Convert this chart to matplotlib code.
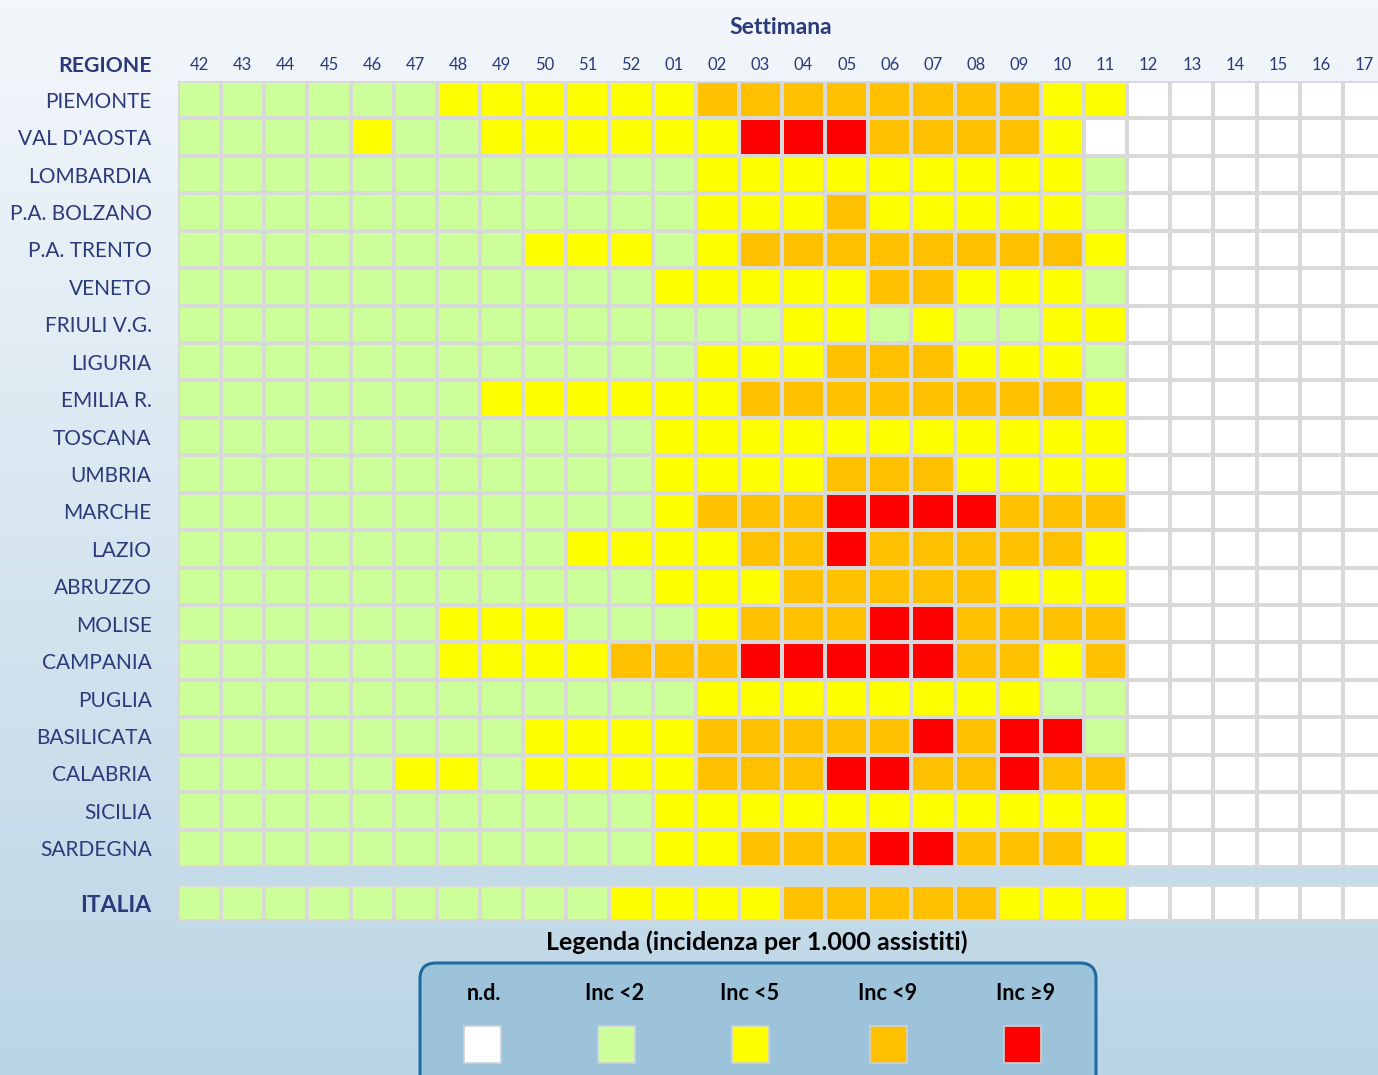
import numpy as np
import matplotlib
matplotlib.use("Agg")
import matplotlib.pyplot as plt
from matplotlib.colors import ListedColormap, BoundaryNorm
from matplotlib.patches import FancyBboxPatch, Rectangle

plt.rcParams['font.family'] = ['Lato', 'DejaVu Sans']

weeks = ['42', '43', '44', '45', '46', '47', '48', '49', '50', '51', '52',
         '01', '02', '03', '04', '05', '06', '07', '08', '09', '10', '11',
         '12', '13', '14', '15', '16', '17']

regions = ['PIEMONTE', "VAL D'AOSTA", 'LOMBARDIA', 'P.A. BOLZANO', 'P.A. TRENTO',
           'VENETO', 'FRIULI V.G.', 'LIGURIA', 'EMILIA R.', 'TOSCANA', 'UMBRIA',
           'MARCHE', 'LAZIO', 'ABRUZZO', 'MOLISE', 'CAMPANIA', 'PUGLIA',
           'BASILICATA', 'CALABRIA', 'SICILIA', 'SARDEGNA']

# class codes: 0 = n.d., 1 = Inc <2, 2 = Inc <5, 3 = Inc <9, 4 = Inc >=9  (weeks 42..11; 12..17 n.d.)
piemonte   = [1,1,1,1,1,1, 2,2,2,2,2,2, 3,3,3,3,3,3,3,3, 2,2]
val_aosta  = [1,1,1,1,2,1,1, 2,2,2,2,2,2, 4,4,4, 3,3,3,3, 2,0]
lombardia  = [1]*12 + [2]*9 + [1]
bolzano    = [1]*12 + [2,2,2, 3, 2,2,2,2,2, 1]
trento     = [1]*8 + [2,2,2, 1, 2] + [3]*8 + [2]
veneto     = [1]*11 + [2]*5 + [3,3] + [2,2,2] + [1]
friuli     = [1]*14 + [2,2, 1, 2, 1,1, 2,2]
liguria    = [1]*12 + [2,2,2, 3,3,3, 2,2,2, 1]
emilia     = [1]*7 + [2]*6 + [3]*8 + [2]
toscana    = [1]*11 + [2]*11
umbria     = [1]*11 + [2]*4 + [3]*3 + [2]*4
marche     = [1]*11 + [2, 3,3,3, 4,4,4,4, 3,3,3]
lazio      = [1]*9 + [2]*4 + [3,3, 4] + [3]*5 + [2]
abruzzo    = [1]*11 + [2]*3 + [3]*5 + [2]*3
molise     = [1]*6 + [2,2,2, 1,1,1, 2, 3,3,3, 4,4, 3,3,3,3]
campania   = [1]*6 + [2]*4 + [3]*3 + [4]*5 + [3,3, 2, 3]
puglia     = [1]*12 + [2]*8 + [1,1]
basilicata = [1]*8 + [2]*4 + [3]*5 + [4, 3, 4,4, 1]
calabria   = [1]*5 + [2,2, 1] + [2]*4 + [3]*3 + [4,4, 3,3, 4, 3,3]
sicilia    = [1]*11 + [2]*11
sardegna   = [1]*11 + [2,2, 3,3,3, 4,4, 3,3,3, 2]
italia     = [1]*10 + [2]*4 + [3]*5 + [2]*3

series = [piemonte, val_aosta, lombardia, bolzano, trento, veneto, friuli, liguria,
          emilia, toscana, umbria, marche, lazio, abruzzo, molise, campania, puglia,
          basilicata, calabria, sicilia, sardegna]

legend_labels = ['n.d.', 'Inc <2', 'Inc <5', 'Inc <9', 'Inc \u22659']
class_colors = ['#FFFFFF', '#CCFF99', '#FFFF00', '#FFC000', '#FF0000']

nw = len(weeks)
def pad(row):
    return row + [0] * (nw - len(row))

M = np.array([pad(r) for r in series])
I = np.array([pad(italia)])

cmap = ListedColormap(class_colors)
norm = BoundaryNorm(np.arange(-0.5, 5.5, 1), cmap.N)

W, H = 1378, 1075
fig = plt.figure(figsize=(W / 100, H / 100), dpi=100)

# background gradient
bg = fig.add_axes([0, 0, 1, 1], zorder=-10)
top = np.array([243, 247, 251]) / 255
bot = np.array([187, 213, 229]) / 255
t = np.linspace(0, 1, 256)[:, None, None]
grad = top * (1 - t) + bot * t
bg.imshow(np.repeat(grad, 2, axis=1), aspect='auto', extent=[0, 1, 0, 1])
bg.axis('off')

navy = '#2C3A7C'
grid_c = '#D9D9D9'
colw = 43.14
x0 = 178
xmax = (W - x0) / colw

def fx(px):
    return px / W
def fy(py):
    return 1 - py / H

# main heatmap
ax = fig.add_axes([fx(x0), fy(867), 1 - fx(x0), (867 - 81) / H])
ax.pcolormesh(np.arange(nw + 1), np.arange(len(regions) + 1), M, cmap=cmap, norm=norm,
              edgecolors=grid_c, linewidth=1.6)
ax.set_xlim(0, xmax)
ax.set_ylim(len(regions), 0)
ax.set_xticks(np.arange(nw) + 0.5)
ax.set_xticklabels(weeks, fontsize=12, color=navy)
ax.xaxis.tick_top()
ax.set_yticks(np.arange(len(regions)) + 0.5)
ax.set_yticklabels(regions, fontsize=15, color=navy)
ax.tick_params(axis='both', length=0)
ax.tick_params(axis='y', pad=19)
ax.tick_params(axis='x', pad=6)
for s in ax.spines.values():
    s.set_visible(False)

# ITALIA row
ax2 = fig.add_axes([fx(x0), fy(921), 1 - fx(x0), 36 / H])
ax2.pcolormesh(np.arange(nw + 1), [0, 1], I, cmap=cmap, norm=norm,
               edgecolors=grid_c, linewidth=1.6)
ax2.set_xlim(0, xmax)
ax2.set_ylim(1, 0)
ax2.set_xticks([])
ax2.set_yticks([0.5])
ax2.set_yticklabels(['ITALIA'], fontsize=16.5, color=navy, fontweight='bold')
ax2.tick_params(axis='y', length=0, pad=19)
for s in ax2.spines.values():
    s.set_visible(False)

fig.text(fx(781), fy(27), 'Settimana', ha='center', va='center', fontsize=16.5,
         fontweight='bold', color=navy)
fig.text(fx(152), fy(66), 'REGIONE', ha='right', va='center', fontsize=15.3,
         fontweight='bold', color=navy)

# legend
ov = fig.add_axes([0, 0, 1, 1], zorder=5)
ov.set_xlim(0, W)
ov.set_ylim(H, 0)
ov.axis('off')
ov.add_patch(FancyBboxPatch((420, 963), 676, 130, boxstyle='round,pad=0,rounding_size=16',
                            facecolor='#9CC3D9', edgecolor='#1F6A9E', linewidth=2.2))
ov.text(757, 942, 'Legenda (incidenza per 1.000 assistiti)', ha='center', va='center',
        fontsize=18, fontweight='bold', color='black')
lx = [484, 615, 750, 888, 1026]
sx = [482, 616, 750, 888, 1022]
for x, s, lab, col in zip(lx, sx, legend_labels, class_colors):
    ov.text(x, 993, lab, ha='center', va='center', fontsize=15.5, fontweight='bold', color='black')
    ov.add_patch(Rectangle((s - 18.5, 1026), 37, 37, facecolor=col, edgecolor='#D0D0D0', linewidth=1.2))

fig.savefig('out.png', dpi=100)
